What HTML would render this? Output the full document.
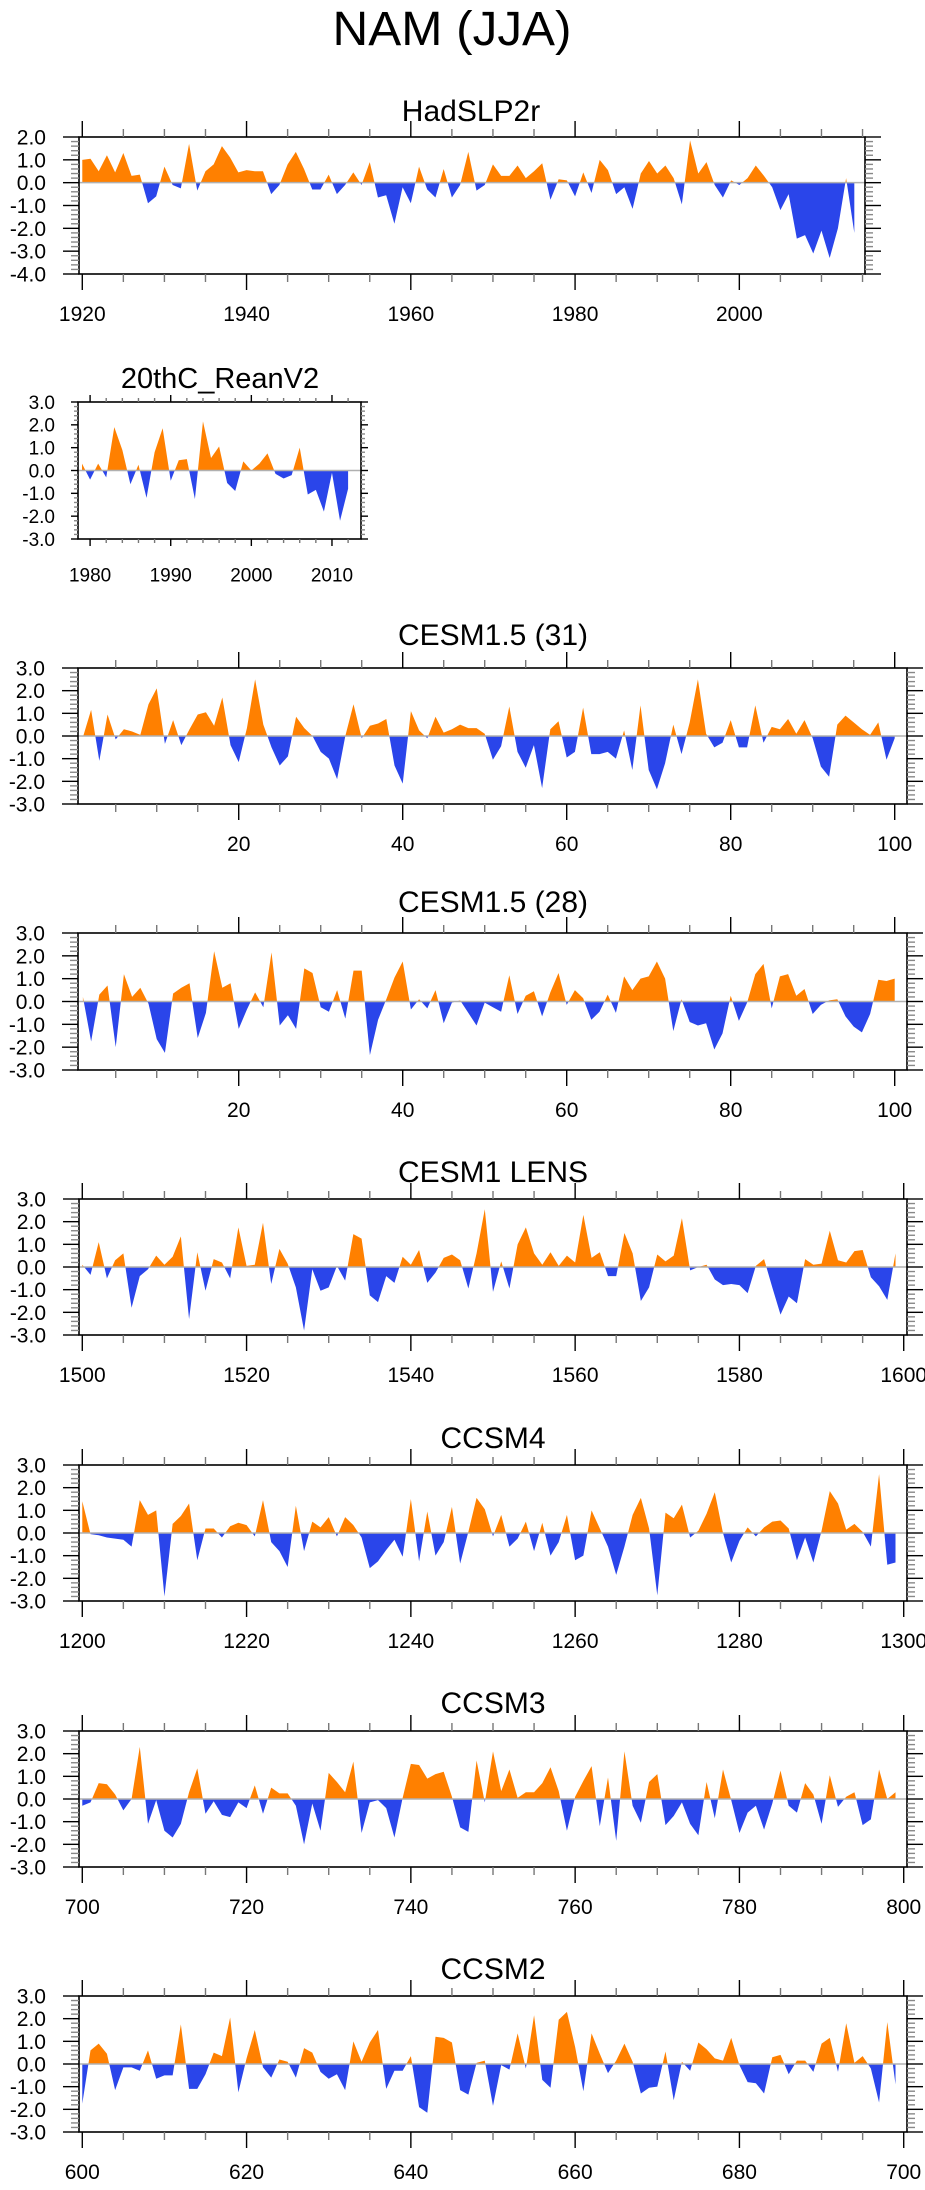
<!DOCTYPE html>
<html><head><meta charset="utf-8"><title>NAM (JJA)</title>
<style>html,body{margin:0;padding:0;background:#fff}svg{display:block}text{font-family:"Liberation Sans",sans-serif;fill:#000}</style>
</head><body>
<svg id="chart" xmlns="http://www.w3.org/2000/svg" width="925" height="2190" viewBox="0 0 925 2190">
<text x="452" y="45" font-size="48" text-anchor="middle" textLength="239" lengthAdjust="spacingAndGlyphs">NAM (JJA)</text>
</svg>
<script>
const hadStart = 1920;
const hadValues = [1.0,1.05,0.5,1.2,0.45,1.3,0.3,0.35,-0.9,-0.6,0.7,-0.1,-0.25,1.7,-0.35,0.5,0.8,1.6,1.1,0.45,0.55,0.5,0.5,-0.5,-0.1,0.8,1.35,0.6,-0.3,-0.3,0.35,-0.5,-0.1,0.45,-0.1,0.9,-0.65,-0.55,-1.8,-0.2,-0.9,0.7,-0.3,-0.65,0.6,-0.65,-0.1,1.35,-0.35,-0.1,0.8,0.3,0.3,0.75,0.2,0.5,0.85,-0.75,0.15,0.1,-0.6,0.45,-0.45,1.0,0.55,-0.5,-0.2,-1.15,0.4,0.95,0.4,0.75,0.2,-0.95,1.85,0.4,0.9,-0.1,-0.65,0.1,-0.1,0.2,0.75,0.3,-0.2,-1.2,-0.5,-2.45,-2.3,-3.1,-2.1,-3.3,-2.0,0.2,-2.2];
const reanStart = 1979;
const reanValues = [0.3,-0.4,0.3,-0.3,1.9,0.9,-0.6,0.25,-1.2,0.8,1.85,-0.45,0.45,0.5,-1.25,2.15,0.55,1.05,-0.55,-0.9,0.4,0.0,0.3,0.75,-0.15,-0.35,-0.2,1.0,-1.05,-0.85,-1.8,-0.1,-2.2,-0.8];
const c31Start = 1;
const c31Values = [-0.05,1.15,-1.1,0.95,-0.15,0.3,0.2,0.05,1.4,2.1,-0.35,0.7,-0.4,0.3,0.95,1.05,0.45,1.7,-0.4,-1.15,0.35,2.5,0.5,-0.5,-1.3,-0.9,0.85,0.35,0.0,-0.7,-1.0,-1.9,0.0,1.4,-0.1,0.45,0.55,0.75,-1.3,-2.1,1.1,0.25,-0.1,0.85,0.15,0.3,0.5,0.35,0.35,0.1,-1.05,-0.45,1.3,-0.7,-1.4,-0.4,-2.3,0.3,0.65,-0.95,-0.7,1.25,-0.8,-0.8,-0.7,-1.0,0.25,-1.5,1.35,-1.5,-2.35,-1.2,0.5,-0.8,0.6,2.5,0.1,-0.5,-0.3,0.7,-0.5,-0.5,1.35,-0.3,0.4,0.3,0.75,0.1,0.7,-0.1,-1.35,-1.8,0.5,0.9,0.6,0.3,0.05,0.6,-1.05,-0.1];
const c28Start = 1;
const c28Values = [0.2,-1.75,0.3,0.7,-2.0,1.2,0.2,0.6,-0.1,-1.65,-2.25,0.35,0.6,0.8,-1.6,-0.5,2.2,0.6,0.8,-1.2,-0.35,0.4,-0.25,2.15,-1.05,-0.6,-1.2,1.45,1.25,-0.25,-0.45,0.5,-0.75,1.35,1.35,-2.35,-0.8,0.1,1.05,1.75,-0.35,0.1,-0.3,0.5,-0.95,-0.05,0.05,-0.5,-1.05,-0.05,-0.25,-0.45,1.15,-0.55,0.25,0.45,-0.65,0.4,1.25,-0.15,0.5,0.15,-0.8,-0.45,0.3,-0.5,1.1,0.5,1.0,1.1,1.75,1.0,-1.3,0.1,-0.9,-1.05,-0.95,-2.1,-1.4,0.25,-0.85,-0.05,1.2,1.65,-0.3,1.1,1.2,0.25,0.55,-0.55,-0.15,0.05,0.1,-0.65,-1.1,-1.35,-0.55,0.95,0.9,1.0];
const lensStart = 1500;
const lensValues = [0.1,-0.35,1.1,-0.5,0.3,0.6,-1.8,-0.4,-0.1,0.5,0.1,0.45,1.35,-2.3,0.65,-1.05,0.35,0.2,-0.5,1.75,0.05,0.1,1.95,-0.75,0.8,0.15,-0.9,-2.8,-0.1,-1.05,-0.9,0.05,-0.6,1.45,1.25,-1.25,-1.55,-0.4,-0.7,0.45,0.1,0.75,-0.7,-0.25,0.4,0.55,0.3,-0.95,0.6,2.55,-1.1,0.25,-0.95,1.0,1.75,0.6,0.1,0.65,0.05,0.5,0.2,2.3,0.4,0.65,-0.4,-0.4,1.5,0.6,-1.5,-0.9,0.55,0.25,0.5,2.15,-0.15,0.0,0.1,-0.55,-0.8,-0.75,-0.8,-1.15,0.05,0.35,-0.9,-2.1,-1.3,-1.6,0.35,0.1,0.15,1.6,0.3,0.2,0.7,0.75,-0.45,-0.85,-1.45,0.6];
const ccsm4Start = 1200;
const ccsm4Values = [1.4,-0.05,-0.1,-0.2,-0.25,-0.3,-0.6,1.45,0.8,1.0,-2.8,0.4,0.75,1.3,-1.2,0.2,0.2,-0.2,0.3,0.45,0.35,-0.15,1.45,-0.4,-0.8,-1.5,1.2,-0.8,0.5,0.25,0.7,-0.15,0.7,0.35,-0.2,-1.55,-1.25,-0.75,-0.3,-1.05,1.5,-1.25,0.95,-1.0,-0.4,1.15,-1.35,0.05,1.55,1.05,-0.15,0.8,-0.6,-0.25,0.5,-0.8,0.45,-1.0,-0.4,0.8,-1.2,-1.0,1.0,0.2,-0.6,-1.85,-0.6,0.8,1.55,0.2,-2.75,0.9,0.65,1.25,-0.2,0.1,0.85,1.8,0.0,-1.3,-0.35,0.25,-0.15,0.25,0.5,0.55,0.2,-1.2,-0.2,-1.3,0.1,1.85,1.3,0.15,0.4,0.05,-0.6,2.6,-1.4,-1.3];
const ccsm3Start = 700;
const ccsm3Values = [-0.3,-0.15,0.7,0.65,0.2,-0.5,0.0,2.3,-1.1,-0.05,-1.4,-1.7,-1.1,0.3,1.35,-0.65,-0.1,-0.7,-0.8,-0.15,-0.4,0.6,-0.65,0.5,0.25,0.25,-0.3,-2.0,-0.2,-1.4,1.15,0.75,0.3,1.65,-1.5,-0.15,-0.05,-0.4,-1.7,0.05,1.55,1.5,0.9,1.1,1.2,0.1,-1.25,-1.45,1.7,-0.15,2.1,0.35,1.3,0.05,0.3,0.3,0.7,1.4,0.35,-1.4,0.1,0.8,1.45,-1.2,0.95,-1.85,2.1,-0.3,-1.05,0.75,1.1,-1.15,-0.75,-0.15,-1.1,-1.6,0.75,-0.85,1.3,-0.05,-1.5,-0.6,-0.3,-1.35,-0.2,1.25,-0.3,-0.6,0.7,0.2,-1.1,1.05,-0.35,0.1,0.3,-1.15,-0.9,1.3,0.0,0.3];
const ccsm2Start = 600;
const ccsm2Values = [-1.75,0.6,0.9,0.45,-1.15,-0.15,-0.15,-0.3,0.6,-0.65,-0.5,-0.5,1.75,-1.1,-1.1,-0.45,0.5,0.35,2.05,-1.25,0.25,1.5,-0.15,-0.6,0.2,0.1,-0.6,0.7,0.5,-0.35,-0.65,-0.45,-1.15,1.0,0.1,0.95,1.5,-1.1,-0.3,-0.3,0.35,-1.9,-2.15,1.2,1.15,0.95,-1.15,-1.35,0.05,0.15,-1.85,-0.05,-0.25,1.35,-0.2,2.15,-0.7,-1.05,1.95,2.3,0.75,-1.2,1.35,0.45,-0.4,0.15,0.9,0.1,-1.3,-1.05,-1.0,0.55,-1.6,0.1,-0.3,0.95,0.65,0.25,0.15,1.15,-0.05,-0.8,-0.85,-1.3,0.3,0.4,-0.45,0.15,0.15,-0.35,0.9,1.15,-0.35,1.8,0.05,0.35,-0.2,-1.7,1.85,-0.9];
const yTicks13 = [3,2,1,0,-1,-2,-3];
const yTicksHad = [2,1,0,-1,-2,-3,-4];

const NS = "http://www.w3.org/2000/svg";
const svg = document.getElementById('chart');
function mk(tag, attrs, parent) {
  const e = document.createElementNS(NS, tag);
  for (const k in attrs) e.setAttribute(k, attrs[k]);
  (parent || svg).appendChild(e);
  return e;
}
const ORANGE = "#ff8000", BLUE = "#2a45ea";

const panels = [
  {name:"hadslp2r", title:"HadSLP2r", titleY:121, titleX:471, start:hadStart, vals:hadValues, top:137, bottom:274, left:79, right:865, xmin:1919.6, xmax:2015.3, ymin:-4, ymax:2, yt:yTicksHad, major:20, majorStart:1920, minor:5, tl:16, tm:8, fs:21, tfs:30},
  {name:"20thc-reanv2", title:"20thC_ReanV2", titleY:388, titleX:220, start:reanStart, vals:reanValues, top:402, bottom:539, left:78, right:361, xmin:1978.5, xmax:2013.6, ymin:-3, ymax:3, yt:yTicks13, major:10, majorStart:1980, minor:2, tl:7, tm:4, fs:19, tfs:29},
  {name:"cesm15-31", title:"CESM1.5 (31)", titleY:645, titleX:493, start:c31Start, vals:c31Values, top:668, bottom:804, left:78, right:907, xmin:0.4, xmax:101.5, ymin:-3, ymax:3, yt:yTicks13, major:20, majorStart:20, minor:5, tl:16, tm:8, fs:21, tfs:30},
  {name:"cesm15-28", title:"CESM1.5 (28)", titleY:912, titleX:493, start:c28Start, vals:c28Values, top:933, bottom:1070, left:78, right:907, xmin:0.4, xmax:101.5, ymin:-3, ymax:3, yt:yTicks13, major:20, majorStart:20, minor:5, tl:16, tm:8, fs:21, tfs:30},
  {name:"cesm1-lens", title:"CESM1 LENS", titleY:1182, titleX:493, start:lensStart, vals:lensValues, top:1199, bottom:1335, left:79, right:907, xmin:1499.6, xmax:1600.4, ymin:-3, ymax:3, yt:yTicks13, major:20, majorStart:1500, minor:5, tl:16, tm:8, fs:21, tfs:30},
  {name:"ccsm4", title:"CCSM4", titleY:1448, titleX:493, start:ccsm4Start, vals:ccsm4Values, top:1465, bottom:1601, left:79, right:907, xmin:1199.6, xmax:1300.4, ymin:-3, ymax:3, yt:yTicks13, major:20, majorStart:1200, minor:5, tl:16, tm:8, fs:21, tfs:30},
  {name:"ccsm3", title:"CCSM3", titleY:1713, titleX:493, start:ccsm3Start, vals:ccsm3Values, top:1731, bottom:1867, left:79, right:907, xmin:699.6, xmax:800.4, ymin:-3, ymax:3, yt:yTicks13, major:20, majorStart:700, minor:5, tl:16, tm:8, fs:21, tfs:30},
  {name:"ccsm2", title:"CCSM2", titleY:1979, titleX:493, start:ccsm2Start, vals:ccsm2Values, top:1996, bottom:2132, left:79, right:907, xmin:599.6, xmax:700.4, ymin:-3, ymax:3, yt:yTicks13, major:20, majorStart:600, minor:5, tl:16, tm:8, fs:21, tfs:30}
];

const defs = mk('defs', {});
panels.forEach((p, pi) => {
  const g = mk('g', {});
  
  
  const xs = v => p.left + (v - p.xmin) / (p.xmax - p.xmin) * (p.right - p.left);
  const ys = v => p.top + (p.ymax - v) / (p.ymax - p.ymin) * (p.bottom - p.top);
  const y0 = ys(0);
  const cu = mk('clipPath', {id:'cu' + pi}, defs);
  mk('rect', {x:p.left, y:p.top, width:p.right - p.left, height:y0 - p.top}, cu);
  const cd = mk('clipPath', {id:'cd' + pi}, defs);
  mk('rect', {x:p.left, y:y0, width:p.right - p.left, height:p.bottom - y0}, cd);
  let d = 'M' + xs(p.start).toFixed(2) + ',' + y0.toFixed(2);
  p.vals.forEach((v, i) => { d += ' L' + xs(p.start + i).toFixed(2) + ',' + ys(v).toFixed(2); });
  d += ' L' + xs(p.start + p.vals.length - 1).toFixed(2) + ',' + y0.toFixed(2) + ' Z';
  const pos = mk('path', {d:d, fill:ORANGE, 'clip-path':'url(#cu' + pi + ')'}, g);
  
  
  const neg = mk('path', {d:d, fill:BLUE, 'clip-path':'url(#cd' + pi + ')'}, g);
  
  
  const zl = mk('line', {x1:p.left, x2:p.right, y1:y0, y2:y0, stroke:'#b0b0b0', 'stroke-width':1.5}, g);
  
  
  const fr = mk('rect', {x:p.left, y:p.top, width:p.right - p.left, height:p.bottom - p.top, fill:'none', stroke:'#000', 'stroke-width':1.6}, g);
  
  
  const firstMinor = Math.ceil(p.xmin / p.minor) * p.minor;
  for (let t = firstMinor; t <= p.xmax; t += p.minor) {
    const isMaj = ((t - p.majorStart) % p.major + p.major) % p.major === 0;
    const L = isMaj ? p.tl : p.tm, x = xs(t);
    mk('line', {x1:x, x2:x, y1:p.top, y2:p.top - L, stroke: isMaj ? '#000' : '#777', 'stroke-width':1.4}, g);
    mk('line', {x1:x, x2:x, y1:p.bottom, y2:p.bottom + L, stroke: isMaj ? '#000' : '#777', 'stroke-width':1.4}, g);
    if (isMaj && t >= p.majorStart) {
      const tx = mk('text', {x:x, y:p.bottom + 47 * (p.fs / 21), 'font-size':p.fs, 'text-anchor':'middle'}, g);
      
      
      tx.textContent = String(t);
    }
  }
  for (let v = p.ymin; v <= p.ymax + 1e-6; v += 0.2) {
    const vv = Math.round(v * 10) / 10;
    const isMaj = Math.abs(vv - Math.round(vv)) < 1e-6;
    const L = isMaj ? p.tl : p.tm, y = ys(vv);
    mk('line', {x1:p.left, x2:p.left - L, y1:y, y2:y, stroke: isMaj ? '#000' : '#888', 'stroke-width':1.4}, g);
    mk('line', {x1:p.right, x2:p.right + L, y1:y, y2:y, stroke: isMaj ? '#000' : '#888', 'stroke-width':1.4}, g);
  }
  p.yt.forEach(v => {
    const tx = mk('text', {x:p.left - p.tl - (p.tl > 10 ? 17 : 16), y:ys(v) + p.fs * 0.36, 'font-size':p.fs, 'text-anchor':'end'}, g);
    
    
    tx.textContent = v.toFixed(1);
  });
  const tt = mk('text', {x:p.titleX, y:p.titleY, 'font-size':p.tfs, 'text-anchor':'middle'}, g);
  
  
  tt.textContent = p.title;
});
</script>
</body></html>
